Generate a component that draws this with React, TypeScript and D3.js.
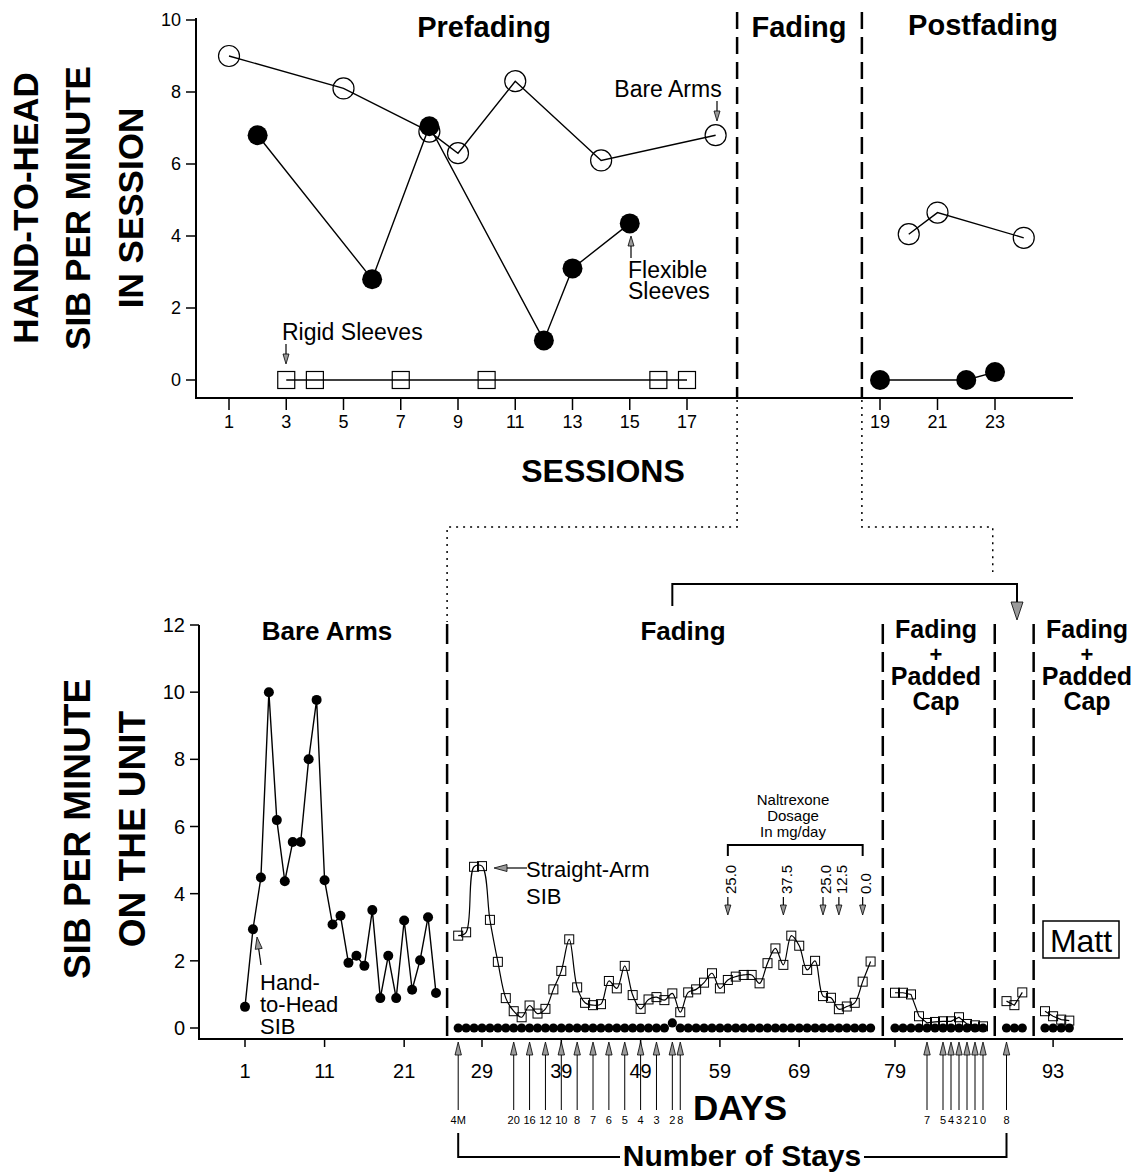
import * as d3 from "d3";

// ---------- top panel: sessions ----------
const preBareSessions = [1, 5, 8, 9, 11, 14, 18];
const preBareValues = [9.0, 8.1, 6.9, 6.3, 8.3, 6.1, 6.8];
const preFlexSessions = [2, 6, 8, 12, 13, 15];
const preFlexValues = [6.8, 2.8, 7.05, 1.1, 3.1, 4.35];
const preRigidSessions = [3, 4, 7, 10, 16, 17];
const preRigidValues = [0, 0, 0, 0, 0, 0];
const postBareSessions = [20, 21, 24];
const postBareValues = [4.05, 4.65, 3.95];
const postFlexSessions = [19, 22, 23];
const postFlexValues = [0, 0, 0.22];
const preTicks = [1, 3, 5, 7, 9, 11, 13, 15, 17];
const postTicks = [19, 21, 23];
const topYTicks = [0, 2, 4, 6, 8, 10];

// ---------- bottom panel: days ----------
const bareStart = 1;
const bareHandToHead = [0.63, 2.94, 4.48, 10.0, 6.19, 4.37, 5.54, 5.54, 8.0, 9.77, 4.4, 3.08, 3.34, 1.94, 2.15, 1.85, 3.51, 0.89, 2.15, 0.89, 3.2, 1.14, 2.02, 3.3, 1.04];
const fadeStart = 26;
const fadeStraightArm = [2.75, 2.85, 4.8, 4.82, 3.22, 1.97, 0.89, 0.5, 0.32, 0.67, 0.43, 0.57, 1.15, 1.7, 2.64, 1.21, 0.75, 0.68, 0.71, 1.4, 1.18, 1.85, 0.98, 0.57, 0.85, 0.92,
  0.83, 1.03, 0.47, 1.06, 1.15, 1.35, 1.63, 1.18, 1.43, 1.53, 1.58, 1.58, 1.33, 1.93, 2.37, 1.88, 2.75, 2.45, 1.73, 2.0, 0.95, 0.9, 0.56, 0.64, 0.75, 1.38, 1.98];
const fadeHandToHead = [0, 0, 0, 0, 0, 0, 0, 0, 0, 0, 0, 0, 0, 0, 0, 0, 0, 0, 0, 0, 0, 0, 0, 0, 0, 0,
  0, 0.15, 0, 0, 0, 0, 0, 0, 0, 0, 0, 0, 0, 0, 0, 0, 0, 0, 0, 0, 0, 0, 0, 0, 0, 0, 0];
const capStart = 79;
const capStraightArm = [1.05, 1.05, 1.0, 0.35, 0.15, 0.18, 0.2, 0.2, 0.32, 0.12, 0.08, 0.05];
const capHandToHead = [0, 0, 0, 0, 0, 0, 0, 0, 0, 0, 0, 0];
const noCapStart = 91;
const noCapStraightArm = [0.8, 0.68, 1.06];
const noCapHandToHead = [0, 0, 0];
const cap2Start = 92;
const cap2StraightArm = [0.5, 0.35, 0.25, 0.22];
const cap2HandToHead = [0, 0, 0, 0];
const bottomYTicks = [0, 2, 4, 6, 8, 10, 12];

const stayDaysFade = [26, 33, 35, 37, 39, 41, 43, 45, 47, 49, 51, 53, 54];
const stayLabelsFade = ["4M", "20", "16", "12", "10", "8", "7", "6", "5", "4", "3", "2", "8"];
const stayDaysCap = [83, 85, 86, 87, 88, 89, 90];
const stayLabelsCap = ["7", "5", "4", "3", "2", "1", "0"];
const stayDaysNoCap = [91];
const stayLabelsNoCap = ["8"];

const doseDays = [60, 67, 72, 74, 77];
const doseLabels = ["25.0", "37.5", "25.0", "12.5", "0.0"];

const FONT = "'Liberation Sans', Arial, Helvetica, sans-serif";

function Arrow({ x1, y1, x2, y2, len = 11, half = 3.5, sw = 1.2 }: any) {
  const dx = x2 - x1, dy = y2 - y1, L = Math.hypot(dx, dy);
  const ux = dx / L, uy = dy / L;
  const bx = x2 - ux * len, by = y2 - uy * len;
  const px = -uy * half, py = ux * half;
  return (
    <g>
      <line x1={x1} y1={y1} x2={bx} y2={by} stroke="#000" strokeWidth={sw} />
      <polygon points={`${x2},${y2} ${bx + px},${by + py} ${bx - px},${by - py}`} fill="#9a9a9a" stroke="#000" strokeWidth={0.8} />
    </g>
  );
}

export default function App() {
  // top scales
  const yTop = d3.scaleLinear().domain([0, 10]).range([380, 20]);
  const xPre = d3.scaleLinear().domain([1, 17]).range([229, 687]);
  const xPost = d3.scaleLinear().domain([19, 23]).range([880, 995]);
  const topLine = (xs: number[], vs: number[], sx: any) =>
    d3.line<number>().x((d) => sx(d)).y((_, i) => yTop(vs[i]))(xs) as string;

  // bottom scales, one per phase (the day axis is broken at each phase line)
  const yBot = d3.scaleLinear().domain([0, 12]).range([1028, 625]);
  const xA = d3.scaleLinear().domain([1, 25]).range([245, 436]);
  const xB = d3.scaleLinear().domain([26, 78]).range([458.2, 870.6]);
  const xC = d3.scaleLinear().domain([79, 90]).range([895, 983]);
  const xD = d3.scaleLinear().domain([91, 93]).range([1006.5, 1022.3]);
  const xE = d3.scaleLinear().domain([92, 95]).range([1045, 1069.3]);

  const seg = (start: number, vals: number[], sx: any, curve: any = d3.curveLinear) =>
    d3.line<number>().curve(curve).x((_, i) => sx(start + i)).y((d) => yBot(d))(vals) as string;

  const bottomSegments = [
    { start: fadeStart, sq: fadeStraightArm, dots: fadeHandToHead, sx: xB, curve: d3.curveCatmullRom.alpha(0.5) },
    { start: capStart, sq: capStraightArm, dots: capHandToHead, sx: xC, curve: d3.curveLinear },
    { start: noCapStart, sq: noCapStraightArm, dots: noCapHandToHead, sx: xD, curve: d3.curveLinear },
    { start: cap2Start, sq: cap2StraightArm, dots: cap2HandToHead, sx: xE, curve: d3.curveLinear },
  ];

  const preEnd = xPre(18.75);
  const postBegin = xPost(18.37);
  const bB = (xA(25) + xB(26)) / 2;
  const bC = (xB(78) + xC(79)) / 2;
  const bD = (xC(90) + xD(91)) / 2;
  const bE = (xD(93) + xE(92)) / 2;

  const bottomTicks: [any, number[]][] = [
    [xA, [1, 11, 21]],
    [xB, [29, 39, 49, 59, 69]],
    [xC, [79]],
    [xE, [93]],
  ];

  const stays: [any, number[], string[]][] = [
    [xB, stayDaysFade, stayLabelsFade],
    [xC, stayDaysCap, stayLabelsCap],
    [xD, stayDaysNoCap, stayLabelsNoCap],
  ];

  return (
    <svg width={1140} height={1175} style={{ position: "absolute", left: 0, top: 0, background: "#fff" }} fontFamily={FONT}>
      {/* ================= TOP PANEL ================= */}
      <g>
        <line x1={196} y1={18} x2={196} y2={398} stroke="#000" strokeWidth={2} />
        <line x1={195} y1={398} x2={1073} y2={398} stroke="#000" strokeWidth={2} />
        {topYTicks.map((t) => (
          <g key={t}>
            <line x1={186} x2={196} y1={yTop(t)} y2={yTop(t)} stroke="#000" strokeWidth={1.5} />
            <text x={181} y={yTop(t)} dy="0.35em" textAnchor="end" fontSize={18}>{t}</text>
          </g>
        ))}
        {preTicks.map((t) => (
          <g key={"p" + t}>
            <line x1={xPre(t)} x2={xPre(t)} y1={398} y2={410} stroke="#000" strokeWidth={1.5} />
            <text x={xPre(t)} y={428} textAnchor="middle" fontSize={18}>{t}</text>
          </g>
        ))}
        {postTicks.map((t) => (
          <g key={"q" + t}>
            <line x1={xPost(t)} x2={xPost(t)} y1={398} y2={410} stroke="#000" strokeWidth={1.5} />
            <text x={xPost(t)} y={428} textAnchor="middle" fontSize={18}>{t}</text>
          </g>
        ))}

        {/* phase lines */}
        <line x1={preEnd} x2={preEnd} y1={12} y2={398} stroke="#000" strokeWidth={2.5} strokeDasharray="17,8" />
        <line x1={postBegin} x2={postBegin} y1={12} y2={398} stroke="#000" strokeWidth={2.5} strokeDasharray="17,8" />
        <text x={484} y={37} textAnchor="middle" fontSize={29} fontWeight="bold">Prefading</text>
        <text x={799} y={37} textAnchor="middle" fontSize={29} fontWeight="bold">Fading</text>
        <text x={983} y={35} textAnchor="middle" fontSize={29} fontWeight="bold">Postfading</text>

        {/* series */}
        <path d={topLine(preBareSessions, preBareValues, xPre)} fill="none" stroke="#000" strokeWidth={1.4} />
        <path d={topLine(preFlexSessions, preFlexValues, xPre)} fill="none" stroke="#000" strokeWidth={1.4} />
        <path d={topLine(preRigidSessions, preRigidValues, xPre)} fill="none" stroke="#000" strokeWidth={1.4} />
        <path d={topLine(postBareSessions, postBareValues, xPost)} fill="none" stroke="#000" strokeWidth={1.4} />
        <path d={topLine(postFlexSessions, postFlexValues, xPost)} fill="none" stroke="#000" strokeWidth={1.4} />

        {preRigidSessions.map((s, i) => (
          <rect key={"r" + i} x={xPre(s) - 8.5} y={yTop(preRigidValues[i]) - 8.5} width={17} height={17} fill="none" stroke="#000" strokeWidth={1.2} />
        ))}
        {preBareSessions.map((s, i) => (
          <circle key={"b" + i} cx={xPre(s)} cy={yTop(preBareValues[i])} r={10.5} fill="none" stroke="#000" strokeWidth={1.2} />
        ))}
        {postBareSessions.map((s, i) => (
          <circle key={"pb" + i} cx={xPost(s)} cy={yTop(postBareValues[i])} r={10.5} fill="none" stroke="#000" strokeWidth={1.2} />
        ))}
        {preFlexSessions.map((s, i) => (
          <circle key={"f" + i} cx={xPre(s)} cy={yTop(preFlexValues[i])} r={10} fill="#000" />
        ))}
        {postFlexSessions.map((s, i) => (
          <circle key={"pf" + i} cx={xPost(s)} cy={yTop(postFlexValues[i])} r={10} fill="#000" />
        ))}

        {/* annotations */}
        <text x={668} y={97} textAnchor="middle" fontSize={23}>Bare Arms</text>
        <Arrow x1={717} y1={101} x2={717} y2={121} len={10} half={3} />
        <text x={628} y={278} fontSize={23}>Flexible</text>
        <text x={628} y={299} fontSize={23}>Sleeves</text>
        <Arrow x1={631} y1={258} x2={631} y2={236} len={10} half={3} />
        <text x={282} y={340} fontSize={23}>Rigid Sleeves</text>
        <Arrow x1={286} y1={344} x2={286} y2={364} len={10} half={3} />

        {/* axis titles */}
        {[["HAND-TO-HEAD", 25], ["SIB PER MINUTE", 77], ["IN SESSION", 130]].map(([t, x]) => (
          <text key={t as string} transform={`translate(${x},208) rotate(-90)`} dy="0.36em" textAnchor="middle" fontSize={35} fontWeight="bold">{t}</text>
        ))}
        <text x={603} y={482} textAnchor="middle" fontSize={32} fontWeight="bold">SESSIONS</text>
      </g>

      {/* ================= CONNECTORS ================= */}
      <path d={`M${preEnd},400 V527 H${bB} V622`} fill="none" stroke="#000" strokeWidth={1.5} strokeDasharray="2,5" />
      <path d={`M${postBegin},400 V527 H${bD - 2} V572`} fill="none" stroke="#000" strokeWidth={1.5} strokeDasharray="2,5" />
      <path d={`M${xB(53)},606 V584 H1017 V600`} fill="none" stroke="#000" strokeWidth={2} />
      <Arrow x1={1017} y1={590} x2={1017} y2={620} len={18} half={6} sw={2} />

      {/* ================= BOTTOM PANEL ================= */}
      <g>
        <line x1={199} y1={625} x2={199} y2={1039} stroke="#000" strokeWidth={2} />
        <line x1={198} y1={1039} x2={1123} y2={1039} stroke="#000" strokeWidth={2} />
        {bottomYTicks.map((t) => (
          <g key={t}>
            <line x1={190} x2={199} y1={yBot(t)} y2={yBot(t)} stroke="#000" strokeWidth={1.5} />
            <text x={185} y={yBot(t)} dy="0.35em" textAnchor="end" fontSize={20}>{t}</text>
          </g>
        ))}
        {bottomTicks.map(([sx, ts], k) =>
          ts.map((t) => (
            <g key={k + "-" + t}>
              <line x1={sx(t)} x2={sx(t)} y1={1039} y2={1047} stroke="#000" strokeWidth={1.5} />
              <text x={sx(t)} y={1078} textAnchor="middle" fontSize={20}>{t}</text>
            </g>
          ))
        )}

        {/* phase lines */}
        {[bB, bC, bD, bE].map((x, i) => (
          <line key={i} x1={x} x2={x} y1={624} y2={1039} stroke="#000" strokeWidth={2.5} strokeDasharray="20,8" />
        ))}
        <text x={327} y={640} textAnchor="middle" fontSize={26} fontWeight="bold">Bare Arms</text>
        <text x={683} y={640} textAnchor="middle" fontSize={26} fontWeight="bold">Fading</text>
        {[936, 1087].map((cx) => (
          <g key={cx} fontSize={25} fontWeight="bold" textAnchor="middle">
            <text x={cx} y={638}>Fading</text>
            <text x={cx} y={662} fontSize={22}>+</text>
            <text x={cx} y={685}>Padded</text>
            <text x={cx} y={710}>Cap</text>
          </g>
        ))}

        {/* bare arms hand-to-head */}
        <path d={seg(bareStart, bareHandToHead, xA)} fill="none" stroke="#000" strokeWidth={1.4} />
        {bareHandToHead.map((v, i) => (
          <circle key={"a" + i} cx={xA(bareStart + i)} cy={yBot(v)} r={5} fill="#000" />
        ))}

        {bottomSegments.map((s, k) => (
          <g key={"s" + k}>
            <path d={seg(s.start, s.sq, s.sx, s.curve)} fill="none" stroke="#000" strokeWidth={1.2} />
            {s.sq.map((v, i) => (
              <rect key={"q" + i} x={s.sx(s.start + i) - 4.5} y={yBot(v) - 4.5} width={9} height={9} fill="none" stroke="#000" strokeWidth={1} />
            ))}
            {s.dots.map((v, i) => (
              <circle key={"d" + i} cx={s.sx(s.start + i)} cy={yBot(v)} r={4.6} fill="#000" />
            ))}
          </g>
        ))}

        {/* annotations */}
        <Arrow x1={527} y1={868} x2={494} y2={868} len={13} half={3.5} />
        <text x={526} y={877} fontSize={22}>Straight-Arm</text>
        <text x={526} y={904} fontSize={22}>SIB</text>

        <Arrow x1={261} y1={965} x2={257} y2={937} len={12} half={3.5} />
        <text x={260} y={990} fontSize={22}>Hand-</text>
        <text x={260} y={1012} fontSize={22}>to-Head</text>
        <text x={260} y={1034} fontSize={22}>SIB</text>

        <g fontSize={15} textAnchor="middle">
          <text x={793} y={805}>Naltrexone</text>
          <text x={793} y={821}>Dosage</text>
          <text x={793} y={837}>In mg/day</text>
        </g>
        <path d={`M${xB(doseDays[0])},856 V845 H${xB(doseDays[doseDays.length - 1])} V856`} fill="none" stroke="#000" strokeWidth={2} />
        {doseDays.map((d, i) => (
          <g key={"dose" + i}>
            <text transform={`translate(${xB(d) + 3},894) rotate(-90)`} dy="0.36em" fontSize={15}>{doseLabels[i]}</text>
            <Arrow x1={xB(d)} y1={897} x2={xB(d)} y2={915} len={10} half={3} />
          </g>
        ))}

        <rect x={1043} y={921} width={76} height={37} fill="none" stroke="#000" strokeWidth={1.5} />
        <text x={1081} y={952} textAnchor="middle" fontSize={32}>Matt</text>

        {/* stays */}
        {stays.map(([sx, days, labels], k) =>
          days.map((d, i) => (
            <g key={"st" + k + "-" + i}>
              <Arrow x1={sx(d)} y1={1110} x2={sx(d)} y2={1042} len={13} half={3.2} sw={1} />
              <text x={sx(d)} y={1124} textAnchor="middle" fontSize={11}>{labels[i]}</text>
            </g>
          ))
        )}
        <path d={`M${xB(26)},1133 V1157 H620`} fill="none" stroke="#000" strokeWidth={2} />
        <path d={`M864,1157 H${xD(91)} V1133`} fill="none" stroke="#000" strokeWidth={2} />
        <text x={742} y={1166} textAnchor="middle" fontSize={30} fontWeight="bold">Number of Stays</text>
        <text x={740} y={1120} textAnchor="middle" fontSize={35} fontWeight="bold">DAYS</text>

        {[["SIB PER MINUTE", 77], ["ON THE UNIT", 132]].map(([t, x]) => (
          <text key={t as string} transform={`translate(${x},829) rotate(-90)`} dy="0.36em" textAnchor="middle" fontSize={37} fontWeight="bold">{t}</text>
        ))}
      </g>
    </svg>
  );
}
